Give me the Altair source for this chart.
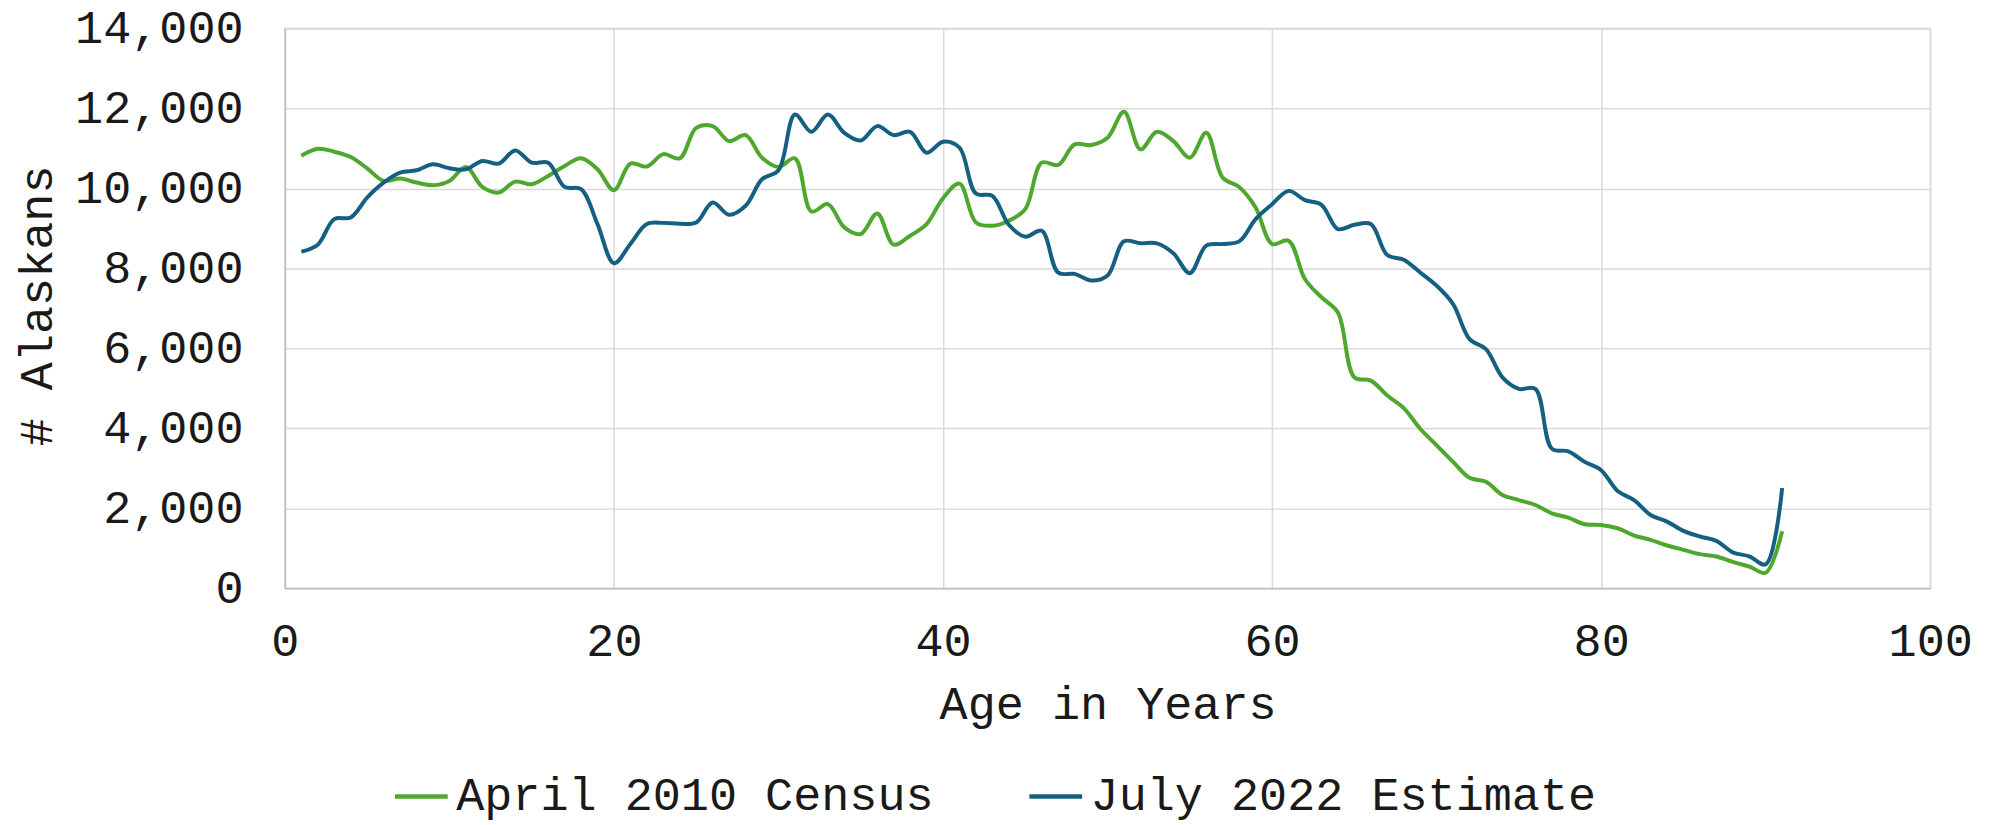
import altair as alt
import pandas as pd

ages = list(range(1, 92))

census_2010 = [
    10820, 10995, 10920, 10787, 10505, 10190, 10248, 10148, 10082, 10190,
    10538, 10040, 9899, 10173, 10107, 10314, 10563, 10754, 10480, 9957,
    10621, 10550, 10860, 10754, 11518, 11560, 11186, 11335, 10771, 10538,
    10754, 9425, 9608, 9027, 8861, 9376, 8595, 8819, 9110, 9758,
    10123, 9151, 9068, 9193, 9484, 10646, 10590, 11103, 11086, 11269,
    11917, 10978, 11418, 11186, 10771, 11393, 10272, 10040, 9525, 8612,
    8695, 7730, 7280, 6900, 5278, 5195, 4822, 4506, 3992, 3577,
    3162, 2763, 2664, 2332, 2207, 2083, 1876, 1768, 1602, 1585,
    1502, 1320, 1212, 1071, 963, 855, 797, 660, 545, 390,
    1428,
]

estimate_2022 = [
    8420, 8595, 9234, 9276, 9774, 10148, 10397, 10455, 10604, 10505,
    10480, 10688, 10621, 10953, 10646, 10646, 10040, 9982, 9110, 8130,
    8612, 9110, 9140, 9118, 9151, 9650, 9342, 9567, 10231, 10455,
    11850, 11418, 11850, 11393, 11202, 11560, 11335, 11418, 10895, 11169,
    11020, 9874, 9816, 9093, 8794, 8944, 7895, 7864, 7698, 7823,
    8678, 8628, 8628, 8379, 7881, 8570, 8612, 8678, 9234, 9608,
    9940, 9708, 9591, 8985, 9093, 9110, 8335, 8220, 7900, 7570,
    7110, 6232, 5983, 5278, 4988, 4988, 3494, 3427, 3162, 2954,
    2432, 2207, 1834, 1668, 1436, 1295, 1187, 900, 800, 600,
    2510,
]

series_names = ["April 2010 Census", "July 2022 Estimate"]
series_colors = ["#4EA72E", "#156082"]
x_ticks = [0, 20, 40, 60, 80, 100]
y_ticks = [0, 2000, 4000, 6000, 8000, 10000, 12000, 14000]

rows = []
for a, v in zip(ages, census_2010):
    rows.append({"age": a, "value": v, "series": series_names[0]})
for a, v in zip(ages, estimate_2022):
    rows.append({"age": a, "value": v, "series": series_names[1]})
df = pd.DataFrame(rows)

FONT = "Liberation Mono"
FS = 47
TXT = "#1a1a1a"

chart = (
    alt.Chart(df)
    .mark_line(interpolate="catmull-rom", strokeWidth=4)
    .encode(
        x=alt.X(
            "age:Q",
            scale=alt.Scale(domain=[0, 100], nice=False, zero=False),
            axis=alt.Axis(
                values=x_ticks,
                title="Age in Years",
                ticks=False,
                tickSize=0,
                labelPadding=30,
                labelFlush=False,
                labelOverlap=False,
                titleX=826,
                titleY=117,
                titleAlign="center",
                titleBaseline="middle",
                gridColor="#d9d9d9",
                domainColor="#bfbfbf",
                domainWidth=1.5,
            ),
        ),
        y=alt.Y(
            "value:Q",
            scale=alt.Scale(domain=[0, 14000], nice=False),
            axis=alt.Axis(
                values=y_ticks,
                format=",d",
                title="# Alaskans",
                ticks=False,
                tickSize=0,
                labelPadding=42,
                labelFlush=False,
                labelOverlap=False,
                titleAngle=-90,
                titleX=-248,
                titleY=278,
                titleAlign="center",
                titleBaseline="middle",
                gridColor="#d9d9d9",
                domainColor="#bfbfbf",
                domainWidth=1.5,
            ),
        ),
        color=alt.Color(
            "series:N",
            scale=alt.Scale(domain=series_names, range=series_colors),
            sort=series_names,
            legend=alt.Legend(
                title=None,
                orient="none",
                direction="horizontal",
                legendX=108,
                legendY=742,
                symbolType="stroke",
                symbolSize=2809,
                symbolStrokeWidth=4.5,
                labelFont=FONT,
                labelFontSize=FS,
                labelColor=TXT,
                labelLimit=1000,
                labelOffset=6,
                columnPadding=86,
            ),
        ),
    )
    .properties(
        width=1652,
        height=562,
        autosize=alt.AutoSizeParams(type="none"),
        padding={"left": 278, "top": 19, "right": 57, "bottom": 236},
        background="white",
    )
    .configure_axis(
        labelFont=FONT,
        labelFontSize=FS,
        labelColor=TXT,
        titleFont=FONT,
        titleFontSize=FS,
        titleFontWeight="normal",
        titleColor=TXT,
        grid=True,
        gridWidth=1.5,
    )
    .configure_view(stroke="#d9d9d9", strokeWidth=1.5)
)

chart.save("out.html", embed_options={"renderer": "svg", "actions": False})
